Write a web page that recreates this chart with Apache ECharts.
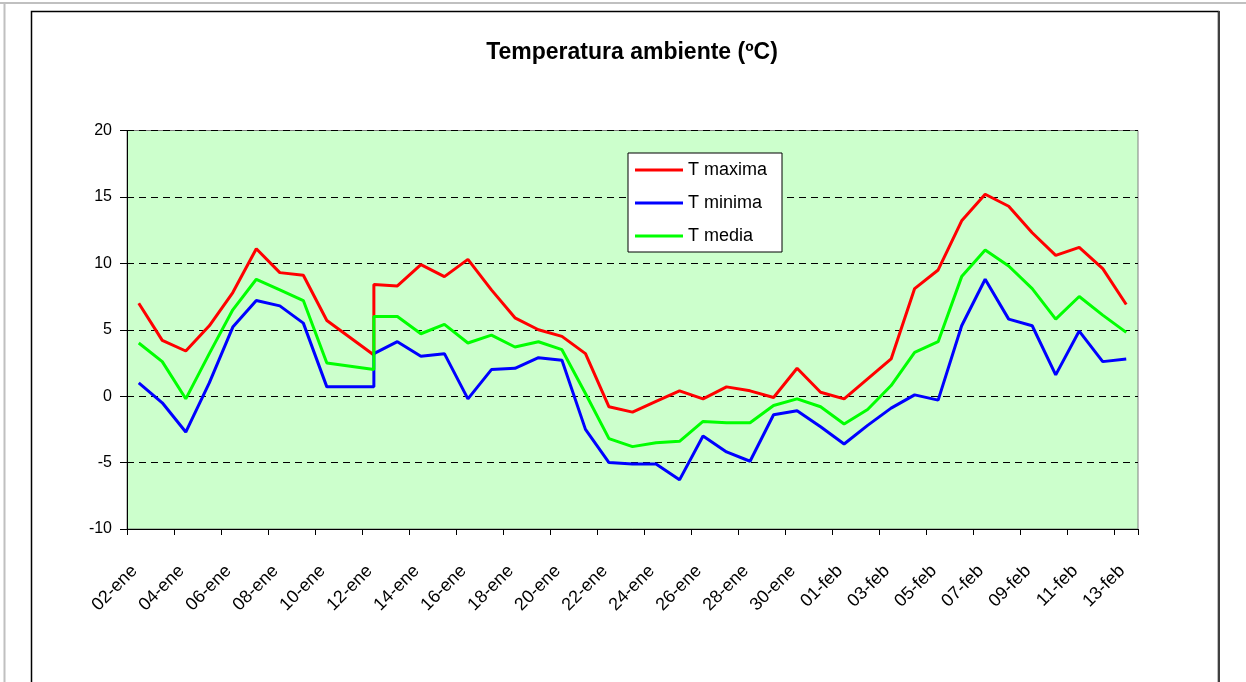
<!DOCTYPE html>
<html>
<head>
    <meta charset="utf-8">
    <title>Temperatura ambiente</title>
    <script src="https://cdn.jsdelivr.net/npm/echarts@6/dist/echarts.min.js"></script>
    <style>
        html, body { margin: 0; padding: 0; background: #fff; }
        #chart { width: 1246px; height: 682px; }
    </style>
</head>
<body>
    <div id="chart"></div>
    <script>
    // dias del eje (una categoria por dia)
    var dias = ['02-ene', '03-ene', '04-ene', '05-ene', '06-ene', '07-ene', '08-ene', '09-ene', '10-ene', '11-ene',
        '12-ene', '13-ene', '14-ene', '15-ene', '16-ene', '17-ene', '18-ene', '19-ene', '20-ene', '21-ene',
        '22-ene', '23-ene', '24-ene', '25-ene', '26-ene', '27-ene', '28-ene', '29-ene', '30-ene', '31-ene',
        '01-feb', '02-feb', '03-feb', '04-feb', '05-feb', '06-feb', '07-feb', '08-feb', '09-feb', '10-feb',
        '11-feb', '12-feb', '13-feb'];

    // fecha de cada medida (falta el 11-ene, el 12-ene aparece dos veces)
    var fechas = ['02-ene', '03-ene', '04-ene', '05-ene', '06-ene', '07-ene', '08-ene', '09-ene', '10-ene',
        '12-ene', '12-ene', '13-ene', '14-ene', '15-ene', '16-ene', '17-ene', '18-ene', '19-ene', '20-ene', '21-ene',
        '22-ene', '23-ene', '24-ene', '25-ene', '26-ene', '27-ene', '28-ene', '29-ene', '30-ene', '31-ene',
        '01-feb', '02-feb', '03-feb', '04-feb', '05-feb', '06-feb', '07-feb', '08-feb', '09-feb', '10-feb',
        '11-feb', '12-feb', '13-feb'];

    var tMaxima = [7.0, 4.2, 3.4, 5.3, 7.8, 11.1, 9.3, 9.1, 5.7, 3.1, 8.4,
        8.3, 9.9, 9.0, 10.3, 8.0, 5.9, 5.0, 4.5, 3.2, -0.8, -1.2, -0.4, 0.4, -0.2, 0.7, 0.4, -0.1, 2.1, 0.3, -0.2,
        1.3, 2.8, 8.1, 9.5, 13.2, 15.2, 14.3, 12.3, 10.6, 11.2, 9.6, 6.9];
    var tMinima = [1.0, -0.5, -2.7, 1.0, 5.2, 7.2, 6.8, 5.5, 0.7, 0.7, 3.2,
        4.1, 3.0, 3.2, -0.2, 2.0, 2.1, 2.9, 2.7, -2.5, -5.0, -5.1, -5.1, -6.3, -3.0, -4.2, -4.9, -1.4, -1.1, -2.3, -3.6,
        -2.2, -0.9, 0.1, -0.3, 5.3, 8.8, 5.8, 5.3, 1.6, 4.9, 2.6, 2.8];
    var tMedia = [4.0, 2.6, -0.2, 3.2, 6.5, 8.8, 8.0, 7.2, 2.5, 2.0, 6.0,
        6.0, 4.7, 5.4, 4.0, 4.6, 3.7, 4.1, 3.5, 0.2, -3.2, -3.8, -3.5, -3.4, -1.9, -2.0, -2.0, -0.7, -0.2, -0.8, -2.1,
        -1.0, 0.8, 3.3, 4.1, 9.0, 11.0, 9.8, 8.1, 5.8, 7.5, 6.1, 4.8];

    var yTicks = [-10, -5, 0, 5, 10, 15, 20];

    function pares(valores) {
        return valores.map(function (v, i) { return [fechas[i], v]; });
    }

    function serie(nombre, valores, color) {
        return {
            name: nombre,
            type: 'line',
            data: pares(valores),
            symbol: 'none',
            lineStyle: { color: color, width: 3 },
            itemStyle: { color: color },
            z: 2
        };
    }

    var chart = echarts.init(document.getElementById('chart'));
    chart.setOption({
        animation: false,
        textStyle: { fontFamily: 'Liberation Sans, Arial, sans-serif' },
        title: {
            text: 'Temperatura ambiente (ºC)',
            left: 627,
            textAlign: 'center',
            top: 36,
            textStyle: { fontSize: 23, fontWeight: 'bold', color: '#000' }
        },
        graphic: [
            { type: 'line', shape: { x1: 0, y1: 3, x2: 1246, y2: 3 }, style: { stroke: '#c0c0c0', lineWidth: 2 } },
            { type: 'line', shape: { x1: 4.5, y1: 3, x2: 4.5, y2: 682 }, style: { stroke: '#c0c0c0', lineWidth: 2 } },
            { type: 'polyline', shape: { points: [[31.5, 682], [31.5, 11.5], [1218.5, 11.5], [1218.5, 682]] },
              style: { stroke: '#000', lineWidth: 1.5, fill: null } },
            { type: 'line', shape: { x1: 1219, y1: 11, x2: 1219, y2: 682 }, style: { stroke: '#404040', lineWidth: 2 } },
            { type: 'rect', z: 3, shape: { x: 628, y: 153, width: 154, height: 99 },
              style: { fill: '#fff', stroke: '#000', lineWidth: 1 } }
        ],
        legend: {
            orient: 'vertical',
            left: 635,
            top: 160,
            padding: 0,
            icon: 'rect',
            itemWidth: 48,
            itemHeight: 3,
            itemGap: 13,
            z: 4,
            textStyle: { fontSize: 18, lineHeight: 20, color: '#000' },
            data: ['T maxima', 'T minima', 'T media']
        },
        grid: {
            left: 127,
            right: 108,
            top: 130.5,
            bottom: 153,
            show: true,
            backgroundColor: '#ccffcc',
            borderColor: '#808080',
            borderWidth: 1
        },
        xAxis: {
            type: 'category',
            data: dias,
            boundaryGap: true,
            axisLine: { onZero: false, lineStyle: { color: '#000', width: 1 } },
            axisTick: { show: true, interval: 1, length: 6, lineStyle: { color: '#000', width: 1 } },
            axisLabel: { interval: 1, rotate: 45, fontSize: 18, color: '#000', margin: 35, padding: [0, 6, 11, 0] },
            splitLine: { show: false }
        },
        yAxis: {
            type: 'value',
            min: yTicks[0],
            max: yTicks[yTicks.length - 1],
            interval: 5,
            axisLine: { show: true, lineStyle: { color: '#000', width: 1 } },
            axisTick: { show: true, length: 7, lineStyle: { color: '#000' } },
            axisLabel: { fontSize: 16, color: '#000', margin: 15 },
            splitLine: { lineStyle: { color: '#000', type: [7, 5], width: 1 } }
        },
        series: [
            serie('T maxima', tMaxima, '#ff0000'),
            serie('T minima', tMinima, '#0000ff'),
            serie('T media', tMedia, '#00ff00')
        ]
    });
    </script>
</body>
</html>
